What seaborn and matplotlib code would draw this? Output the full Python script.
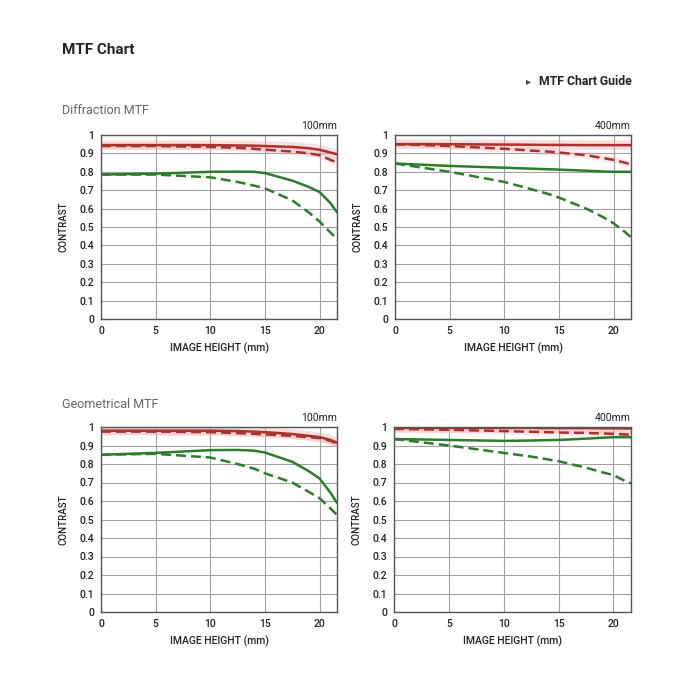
import numpy as np
import pandas as pd
import seaborn as sns
import matplotlib.pyplot as plt
from matplotlib.ticker import FuncFormatter

# image height positions (mm)
heights = [0, 5, 10, 12.5, 14, 15, 17.5, 19, 20, 21, 21.6]

# Diffraction MTF, 100mm
d100_red_s = [0.945, 0.945, 0.945, 0.943, 0.942, 0.940, 0.935, 0.928, 0.920, 0.905, 0.895]
d100_red_d = [0.940, 0.940, 0.935, 0.930, 0.925, 0.920, 0.910, 0.900, 0.890, 0.865, 0.850]
d100_grn_s = [0.785, 0.790, 0.800, 0.801, 0.800, 0.793, 0.752, 0.718, 0.690, 0.630, 0.580]
d100_grn_d = [0.785, 0.785, 0.770, 0.745, 0.725, 0.710, 0.645, 0.580, 0.530, 0.470, 0.435]

# Diffraction MTF, 400mm
d400_red_s = [0.950, 0.950, 0.948, 0.947, 0.946, 0.946, 0.945, 0.945, 0.945, 0.945, 0.945]
d400_red_d = [0.950, 0.940, 0.925, 0.915, 0.910, 0.905, 0.890, 0.875, 0.865, 0.850, 0.840]
d400_grn_s = [0.845, 0.832, 0.822, 0.817, 0.814, 0.812, 0.806, 0.802, 0.800, 0.800, 0.800]
d400_grn_d = [0.845, 0.800, 0.745, 0.705, 0.680, 0.660, 0.600, 0.555, 0.520, 0.475, 0.445]

# Geometrical MTF, 100mm
g100_red_s = [0.980, 0.980, 0.980, 0.978, 0.975, 0.972, 0.962, 0.952, 0.945, 0.930, 0.915]
g100_red_d = [0.975, 0.975, 0.972, 0.967, 0.963, 0.960, 0.952, 0.945, 0.940, 0.925, 0.910]
g100_grn_s = [0.850, 0.860, 0.875, 0.876, 0.872, 0.862, 0.812, 0.762, 0.722, 0.645, 0.590]
g100_grn_d = [0.850, 0.855, 0.835, 0.800, 0.775, 0.750, 0.700, 0.650, 0.615, 0.560, 0.525]

# Geometrical MTF, 400mm
g400_red_s = [0.995, 0.995, 0.995, 0.995, 0.994, 0.994, 0.994, 0.993, 0.993, 0.992, 0.992]
g400_red_d = [0.990, 0.985, 0.978, 0.974, 0.972, 0.970, 0.968, 0.965, 0.963, 0.960, 0.958]
g400_grn_s = [0.935, 0.930, 0.925, 0.927, 0.929, 0.930, 0.937, 0.942, 0.945, 0.945, 0.945]
g400_grn_d = [0.935, 0.900, 0.860, 0.840, 0.825, 0.815, 0.780, 0.755, 0.740, 0.710, 0.695]

panels = [
    ("100mm", d100_red_s, d100_red_d, d100_grn_s, d100_grn_d),
    ("400mm", d400_red_s, d400_red_d, d400_grn_s, d400_grn_d),
    ("100mm", g100_red_s, g100_red_d, g100_grn_s, g100_grn_d),
    ("400mm", g400_red_s, g400_red_d, g400_grn_s, g400_grn_d),
]

sns.set_style("white")
plt.rcParams['font.family'] = ['Roboto', 'DejaVu Sans']

RED = '#a8322d'
GREEN = '#2b7d2b'
DASH = (4, 2)

fig = plt.figure(figsize=(7, 7), dpi=100)

# axes rectangles in pixels: left, top, right, bottom
rects = [(101, 135, 337, 319), (395, 135, 631, 319),
         (101, 427, 337, 612), (394, 427, 631, 612)]

for (l, t, r, b), (focal, rs, rd, gs, gd) in zip(rects, panels):
    ax = fig.add_axes([l / 700, 1 - b / 700, (r - l) / 700, (b - t) / 700])
    # light glow behind the red lines
    sns.lineplot(x=heights, y=rs, ax=ax, color='#f0a8a8', lw=7, alpha=0.35)
    sns.lineplot(x=heights, y=rd, ax=ax, color='#f0a8a8', lw=5, alpha=0.25)
    sns.lineplot(x=heights, y=rs, ax=ax, color=RED, lw=1.8)
    sns.lineplot(x=heights, y=rd, ax=ax, color=RED, lw=1.8)
    ax.lines[-1].set_dashes(DASH)
    sns.lineplot(x=heights, y=gs, ax=ax, color=GREEN, lw=1.8)
    sns.lineplot(x=heights, y=gd, ax=ax, color=GREEN, lw=1.8)
    ax.lines[-1].set_dashes(DASH)

    ax.set_xlim(0, 21.6)
    ax.set_ylim(0, 1)
    ax.set_xticks([0, 5, 10, 15, 20])
    ax.set_yticks(np.arange(0, 1.01, 0.1))
    ax.yaxis.set_major_formatter(FuncFormatter(lambda v, p: f'{v:.0f}' if abs(v - round(v)) < 1e-6 else f'{v:.1f}'))
    ax.grid(True, color='#a0a0a0', lw=0.8)
    ax.tick_params(length=0, labelsize=7.5, colors='#222222', pad=5)
    for lab in ax.get_xticklabels() + ax.get_yticklabels():
        lab.set_fontweight('medium')
    for s in ax.spines.values():
        s.set_color('#555555')
        s.set_linewidth(1.0)
    ax.set_xlabel('IMAGE HEIGHT (mm)', fontsize=7.5, fontweight='medium',
                  color='#222222', labelpad=5)
    ax.set_ylabel('CONTRAST', fontsize=7, fontweight='medium',
                  color='#222222', labelpad=8)
    ax.text(1.0, 1.02, focal, transform=ax.transAxes, ha='right', va='bottom',
            fontsize=7.5, color='#222222')

fig.text(62 / 700, 1 - 50 / 700, 'MTF Chart', fontsize=11, fontweight='bold',
         color='#222222', va='center', ha='left')
fig.text(632 / 700, 1 - 85 / 700, 'MTF Chart Guide', fontsize=8.8, fontweight='bold',
         color='#222222', va='baseline', ha='right')
fig.text(526 / 700, 1 - 84 / 700, '▸', fontsize=7.5, color='#444444',
         va='baseline', ha='left', family='DejaVu Sans')
fig.text(62 / 700, 1 - 110 / 700, 'Diffraction MTF', fontsize=9, color='#666666',
         va='center', ha='left')
fig.text(62 / 700, 1 - 404 / 700, 'Geometrical MTF', fontsize=9, color='#666666',
         va='center', ha='left')

fig.savefig('out.png', dpi=100, facecolor='white')
